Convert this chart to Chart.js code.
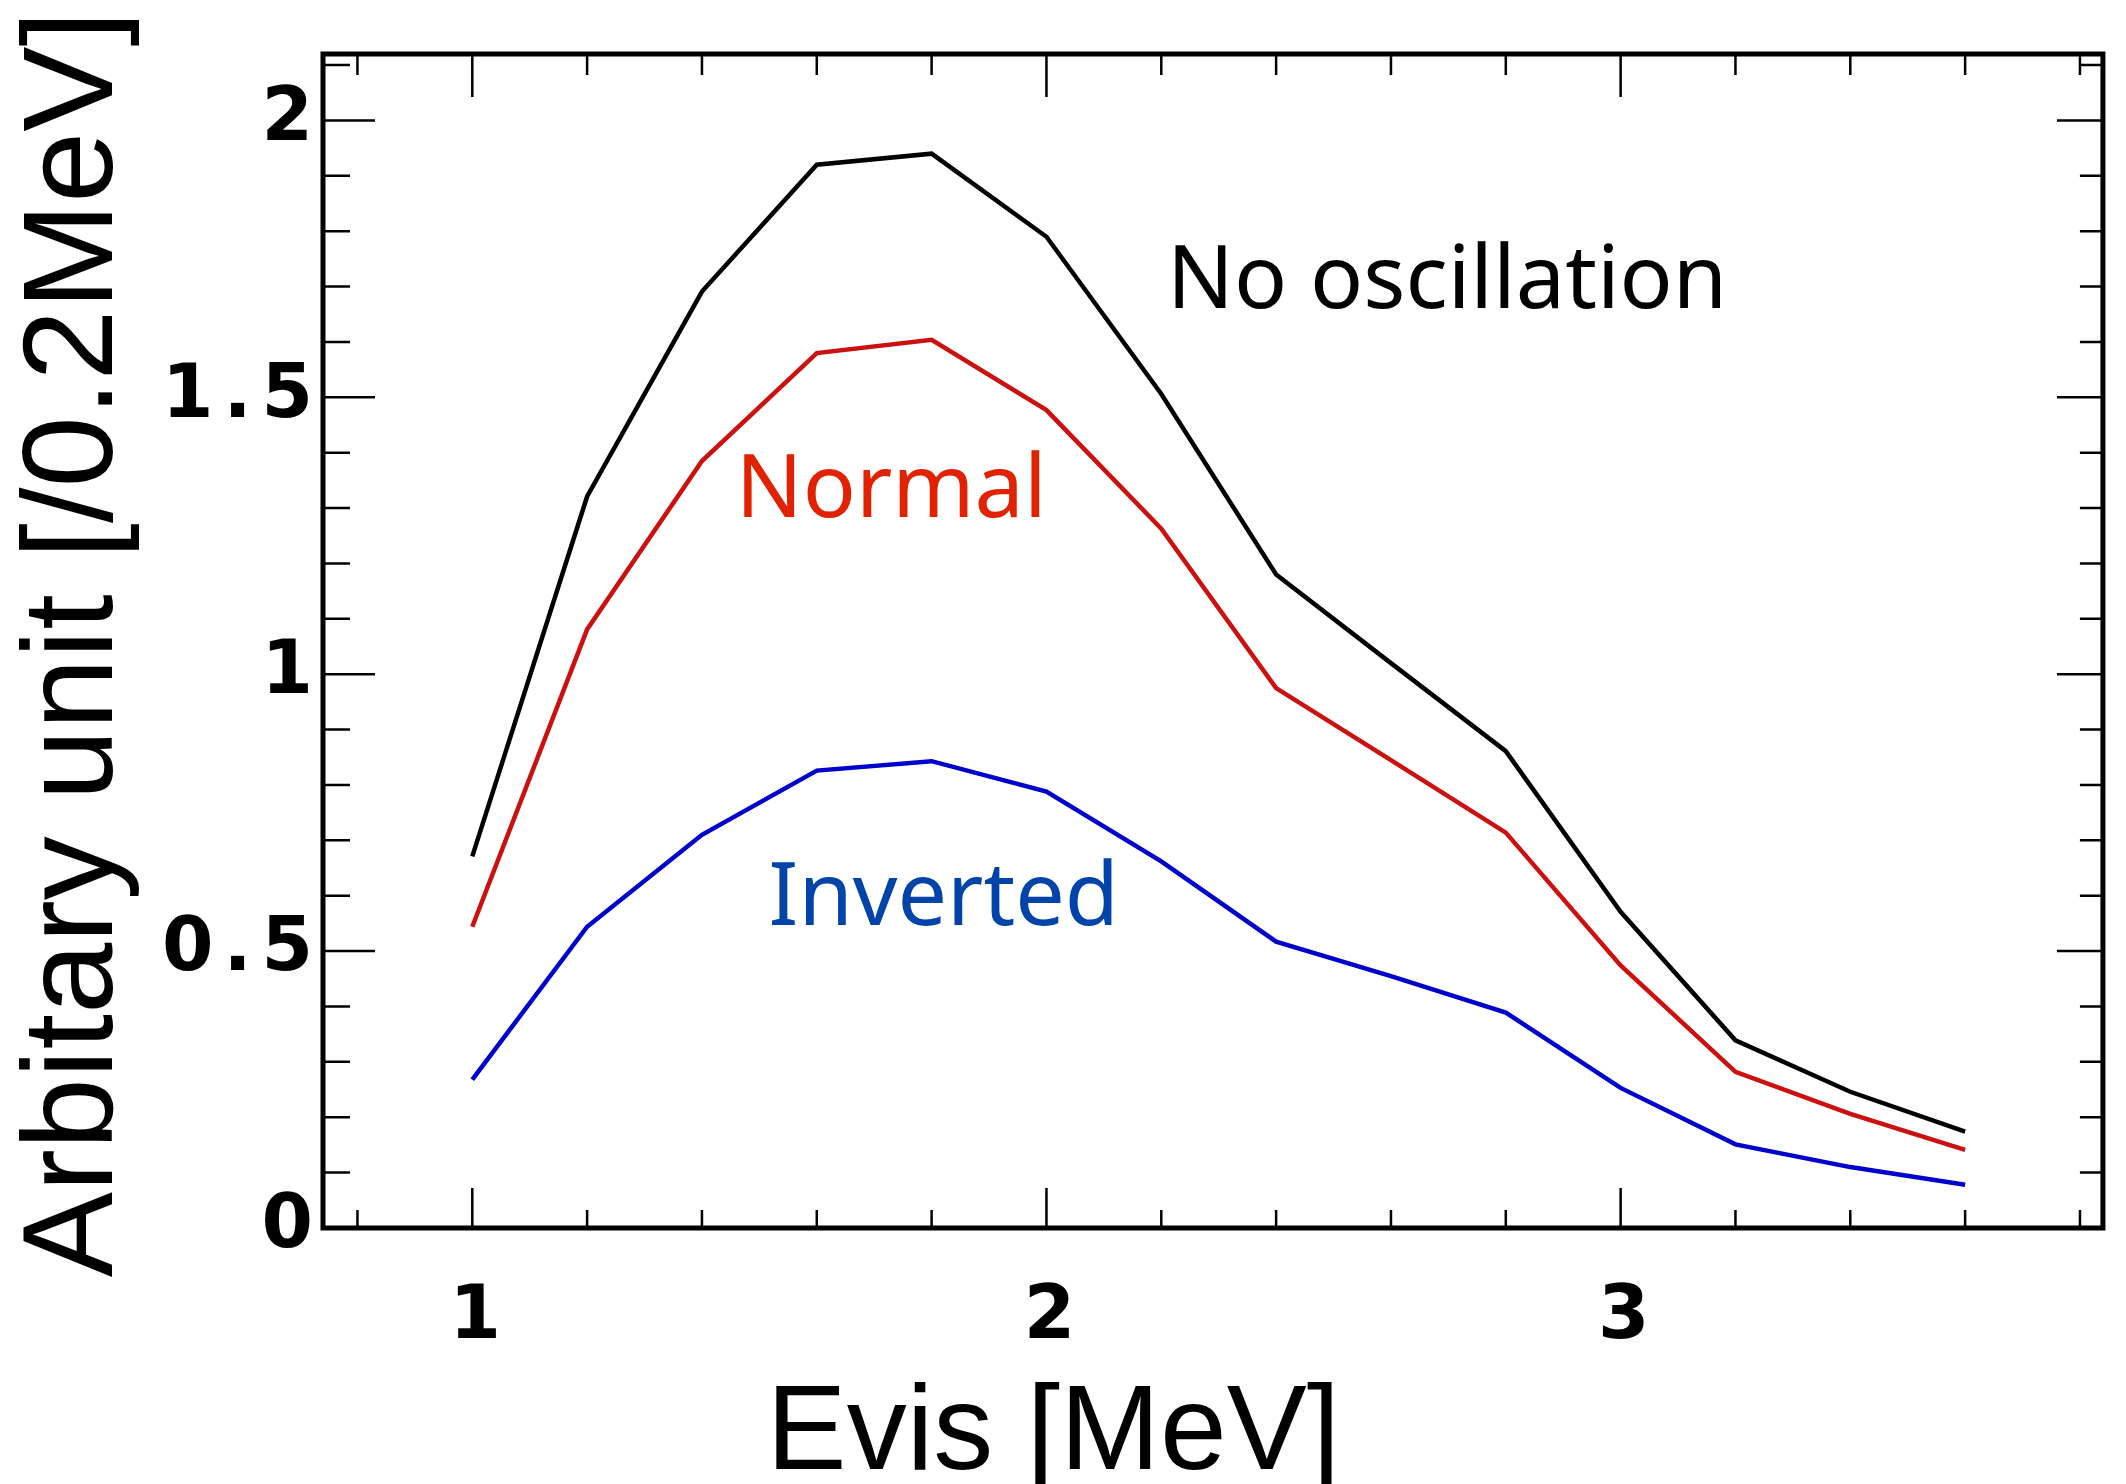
<!DOCTYPE html>
<html>
<head>
<meta charset="utf-8">
<script src="https://cdn.jsdelivr.net/npm/chart.js@4.4.1/dist/chart.umd.min.js"></script>
<style>
  html, body { margin: 0; padding: 0; background: #fff; }
</style>
</head>
<body>
<canvas id="spectrumChart" width="2126" height="1484"></canvas>
<script>
// visible energy bins [MeV]
const evis = [1.0, 1.2, 1.4, 1.6, 1.8, 2.0, 2.2, 2.4, 2.6, 2.8, 3.0, 3.2, 3.4, 3.6];
const noOscillation = [0.671, 1.321, 1.691, 1.920, 1.940, 1.790, 1.506, 1.180, 1.020, 0.861, 0.571, 0.339, 0.246, 0.174];
const normalOrdering = [0.544, 1.081, 1.385, 1.580, 1.604, 1.477, 1.263, 0.975, 0.845, 0.714, 0.474, 0.282, 0.206, 0.141];
const invertedOrdering = [0.268, 0.544, 0.710, 0.826, 0.843, 0.788, 0.662, 0.517, 0.455, 0.389, 0.253, 0.151, 0.110, 0.078];
const seriesNames = ["No oscillation", "Normal", "Inverted"];
const xTitle = "Evis [MeV]";
const yTitle = "Arbitary unit [/0.2MeV]";

const xMin = 0.74, xMax = 3.84;
const yMin = 0, yMax = 2.12;

function toPoints(values) {
    return values.map((v, i) => ({ x: evis[i], y: v }));
}

const isMultiple = (v, step) => Math.abs(v / step - Math.round(v / step)) < 1e-6;

// wide, spaced tick digits like the original plot
const spacingPlugin = {
    id: "spacing",
    beforeDraw(chart) { chart.ctx.letterSpacing = "10px"; },
    afterDraw(chart) { chart.ctx.letterSpacing = "0px"; }
};

// frame with inward ticks on all four sides, curve labels and axis titles
const framePlugin = {
    id: "frame",
    afterDatasetsDraw(chart) {
        const { ctx, chartArea: a, scales: { x, y } } = chart;
        ctx.save();
        ctx.letterSpacing = "0px";
        ctx.strokeStyle = "#000";
        ctx.lineWidth = 2.5;
        ctx.beginPath();
        x.ticks.forEach(t => {
            const px = x.getPixelForValue(t.value);
            const major = isMultiple(t.value, 1);
            ctx.moveTo(px, a.bottom);
            ctx.lineTo(px, a.bottom - (major ? 40 : 18));
            ctx.moveTo(px, a.top);
            ctx.lineTo(px, a.top + (major ? 43 : 21));
        });
        y.ticks.forEach(t => {
            const py = y.getPixelForValue(t.value);
            const major = isMultiple(t.value, 0.5);
            ctx.moveTo(a.left, py);
            ctx.lineTo(a.left + (major ? 52 : 27), py);
            ctx.moveTo(a.right, py);
            ctx.lineTo(a.right - (major ? 46 : 23), py);
        });
        ctx.stroke();
        ctx.lineWidth = 5;
        ctx.strokeRect(a.left, a.top, a.right - a.left, a.bottom - a.top);

        ctx.font = "88px 'Noto Sans'";
        ctx.textAlign = "left";
        ctx.textBaseline = "alphabetic";
        const spots = [[2.21, 1.662, "#000000"], [1.459, 1.284, "#e02200"], [1.516, 0.548, "#0044aa"]];
        seriesNames.forEach((name, i) => {
            const [vx, vy, col] = spots[i];
            ctx.fillStyle = col;
            ctx.fillText(name, x.getPixelForValue(vx), y.getPixelForValue(vy));
        });

        ctx.fillStyle = "#000";
        ctx.font = "120px 'Liberation Sans'";
        ctx.textAlign = "center";
        ctx.fillText(xTitle, x.getPixelForValue(2.012), chart.height - 15);

        ctx.translate(112, (a.top + a.bottom) / 2 + 3);
        ctx.rotate(-Math.PI / 2);
        ctx.font = "128px 'Liberation Sans'";
        ctx.fillText(yTitle, 0, 0);
        ctx.restore();
    }
};

const tickFont = { family: "'DejaVu Sans'", size: 74, weight: "bold" };

new Chart(document.getElementById("spectrumChart"), {
    type: "line",
    data: {
        datasets: [
            { label: seriesNames[0], data: toPoints(noOscillation), borderColor: "#000000", borderWidth: 4.5 },
            { label: seriesNames[1], data: toPoints(normalOrdering), borderColor: "#cc1010", borderWidth: 4.5 },
            { label: seriesNames[2], data: toPoints(invertedOrdering), borderColor: "#0000cc", borderWidth: 4.5 }
        ]
    },
    options: {
        responsive: false,
        animation: false,
        devicePixelRatio: 1,
        layout: { padding: { top: 54, right: 3, left: 0, bottom: 0 } },
        elements: { point: { radius: 0 }, line: { tension: 0, fill: false } },
        plugins: { legend: { display: false }, tooltip: { enabled: false } },
        scales: {
            x: {
                type: "linear",
                min: xMin,
                max: xMax,
                grid: { display: false, drawTicks: false },
                border: { display: false },
                ticks: {
                    stepSize: 0.2,
                    includeBounds: false,
                    autoSkip: false,
                    maxRotation: 0,
                    padding: 46,
                    labelOffset: 8,
                    color: "#000",
                    font: tickFont,
                    callback: v => isMultiple(v, 1) ? String(Math.round(v)) : ""
                },
                afterFit(scale) { scale.height = 256; }
            },
            y: {
                min: yMin,
                max: yMax,
                grid: { display: false, drawTicks: false },
                border: { display: false },
                ticks: {
                    stepSize: 0.1,
                    includeBounds: false,
                    autoSkip: false,
                    padding: 0,
                    color: "#000",
                    font: tickFont,
                    callback: v => isMultiple(v, 0.5) ? String(Math.round(v * 2) / 2) : ""
                },
                afterFit(scale) { scale.width = 323; }
            }
        }
    },
    plugins: [spacingPlugin, framePlugin]
});
</script>
</body>
</html>
